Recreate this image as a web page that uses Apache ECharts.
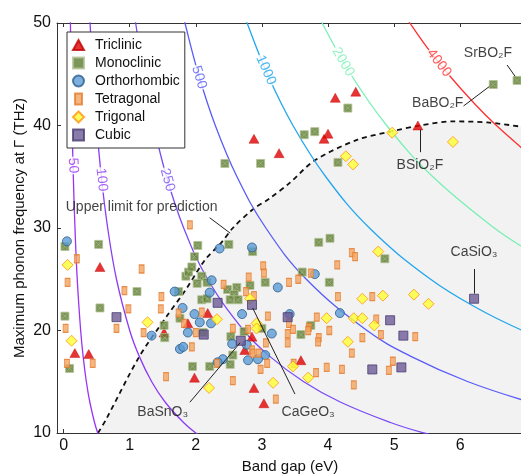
<!DOCTYPE html>
<html>
<head>
<meta charset="utf-8">
<title>Phonon frequency vs band gap</title>
<script src="https://cdn.jsdelivr.net/npm/echarts@6/dist/echarts.min.js"></script>
<style>
  html, body { margin: 0; padding: 0; background: #fff; }
  #chart { width: 521px; height: 475px; }
</style>
</head>
<body>
<div id="chart"></div>
<script>
// crystal systems, [band gap (eV), max phonon freq (THz)]
const categories = ["Triclinic", "Monoclinic", "Orthorhombic", "Tetragonal", "Trigonal", "Cubic"];

const triclinic = [
  [4.11, 42.7], [4.42, 43.3], [4.0, 39.2], [3.94, 38.7], [2.88, 38.7], [3.26, 37.3], [5.36, 40.0],
  [0.55, 26.2], [1.52, 19.8], [0.17, 17.8], [0.38, 17.7], [1.88, 20.7], [2.18, 21.7], [1.98, 15.4],
  [2.85, 19.4], [2.74, 18.1], [2.88, 14.4], [3.03, 12.9], [3.59, 17.1],
];
const monoclinic = [
  [2.44, 36.3], [2.98, 36.3], [4.15, 36.4], [4.3, 41.7], [3.64, 39.1], [3.8, 39.4], [6.5, 44.0], [6.86, 44.4],
  [0.02, 28.2], [0.53, 28.4], [1.11, 23.8], [1.74, 23.8], [1.85, 25.3], [1.89, 25.7], [0.55, 22.2], [0.02, 21.4],
  [1.76, 21.2], [1.52, 20.5], [1.53, 19.3], [0.09, 16.3], [2.03, 28.3], [2.5, 28.4], [2.86, 27.7], [1.98, 27.2],
  [1.94, 26.2], [2.09, 25.3], [2.02, 24.6], [2.17, 24.7], [3.61, 25.7], [2.82, 24.4], [3.05, 24.7], [2.48, 24.0],
  [2.62, 24.2], [2.58, 23.5], [2.52, 23.0], [2.64, 23.0], [2.09, 23.0], [2.17, 23.1], [2.73, 19.9], [2.53, 19.4],
  [2.56, 17.6], [2.21, 16.5], [2.52, 16.7], [1.95, 16.5], [2.11, 19.8], [3.0, 20.2], [3.59, 19.6], [3.74, 20.5],
  [3.86, 28.6], [4.03, 29.0], [4.86, 27.0], [4.02, 24.7],
];
const orthorhombic = [
  [0.05, 28.7], [1.68, 23.8], [1.8, 22.2], [1.33, 19.5], [1.88, 19.8], [1.76, 18.2], [1.81, 18.4], [2.36, 28.0],
  [2.85, 28.1], [2.24, 24.9], [3.24, 24.2], [3.8, 25.5], [2.21, 23.7], [1.98, 21.6], [2.06, 20.8], [2.23, 20.7],
  [2.7, 21.6], [3.42, 21.6], [3.15, 19.7], [2.55, 18.7], [2.77, 18.6], [3.05, 17.6], [2.94, 17.2], [2.79, 17.1],
  [2.41, 17.2], [2.33, 16.9], [4.18, 21.7],
];
const tetragonal = [
  [1.91, 30.3], [0.2, 27.0], [1.18, 26.0], [0.06, 24.7], [0.92, 23.9], [1.48, 23.3], [0.98, 22.1], [1.47, 22.1],
  [0.8, 20.2], [0.03, 20.2], [1.21, 19.8], [0.05, 16.8], [0.44, 16.8], [1.55, 15.5], [1.74, 21.7], [1.82, 20.7],
  [1.94, 18.4], [2.0, 19.8], [2.09, 21.8], [3.02, 26.3], [3.03, 25.6], [3.74, 25.6], [2.8, 25.2], [2.42, 24.5],
  [3.41, 24.7], [3.55, 25.0], [2.76, 23.8], [2.88, 23.4], [4.36, 27.6], [4.41, 27.2], [4.14, 26.4], [4.15, 23.3],
  [4.67, 23.3], [3.09, 21.4], [3.83, 21.3], [4.73, 21.1], [3.41, 20.7], [3.47, 20.1], [3.39, 19.7], [3.71, 20.3],
  [3.7, 20.0], [3.86, 19.3], [3.85, 18.9], [4.02, 20.0], [3.39, 18.8], [3.06, 18.8], [4.52, 19.3], [4.8, 19.6],
  [5.32, 19.4], [2.56, 20.2], [2.79, 20.1], [2.85, 18.1], [2.86, 17.8], [2.95, 17.8], [2.32, 16.8], [3.08, 16.8],
  [2.98, 16.2], [2.56, 15.1], [3.21, 13.3], [3.48, 16.8], [3.82, 15.9], [3.98, 16.4], [4.21, 16.2], [4.36, 17.8],
  [4.39, 14.7], [4.98, 17.0], [4.92, 16.1],
];
const trigonal = [
  [4.97, 39.3], [5.89, 38.4], [4.27, 37.0], [4.38, 36.2], [0.06, 26.4], [1.27, 20.8], [0.12, 19.0], [2.32, 21.1],
  [2.82, 23.1], [2.92, 20.7], [2.92, 20.2], [2.2, 14.4], [3.17, 14.9], [3.47, 16.5], [3.7, 15.4], [3.98, 21.2],
  [4.39, 21.2], [4.52, 21.2], [4.7, 20.5], [4.3, 18.9], [4.52, 23.1], [4.83, 23.4], [5.3, 23.5], [5.52, 22.6],
  [4.76, 27.7],
];
const cubic = [
  [0.8, 21.3], [2.33, 22.7], [2.85, 22.5], [2.68, 19.0], [2.12, 19.6], [3.39, 21.3], [4.94, 21.0], [5.14, 19.5],
  [4.67, 16.2], [5.11, 16.4], [6.21, 23.1],
];

// dashed "upper limit" boundary
const limitCurve = [
  [0.52, 10.0], [0.64, 11.3], [1.14, 17.4], [1.55, 21.3], [1.85, 24.0], [2.14, 26.9], [2.39, 28.6],
  [2.56, 30.0], [2.86, 31.8], [3.12, 32.9], [3.42, 34.4], [3.8, 36.6], [4.44, 38.6], [4.94, 39.4],
  [5.39, 40.0], [5.89, 40.4], [6.41, 40.3], [6.91, 39.9], [6.95, 39.85],
];

// iso-lines
const contourLevels = ["50", "100", "250", "500", "1000", "2000", "4000"];
const contour50 = [[0.099, 52], [0.103, 50], [0.115, 45], [0.129, 40], [0.147, 35], [0.172, 30], [0.206, 25], [0.258, 20], [0.295, 17.5], [0.344, 15], [0.397, 13], [0.469, 11], [0.516, 10], [0.573, 9]];
const contour100 = [[0.385, 52], [0.4, 50], [0.444, 45], [0.5, 40], [0.571, 35], [0.667, 30], [0.8, 25], [1.0, 20], [1.143, 17.5], [1.333, 15], [1.538, 13], [1.818, 11], [2.0, 10], [2.222, 9]];
const contour250 = [[1.048, 52], [1.09, 50], [1.211, 45], [1.363, 40], [1.557, 35], [1.817, 30], [2.18, 25], [2.725, 20], [3.114, 17.5], [3.633, 15], [4.192, 13], [4.955, 11], [5.45, 10], [6.056, 9]];
const contour500 = [[1.765, 52], [1.836, 50], [2.04, 45], [2.295, 40], [2.623, 35], [3.06, 30], [3.672, 25], [4.59, 20], [5.246, 17.5], [6.12, 15], [7.062, 13]];
const contour1000 = [[2.669, 52], [2.776, 50], [3.084, 45], [3.47, 40], [3.966, 35], [4.627, 30], [5.552, 25], [6.309, 22], [6.94, 20], [7.3, 19]];
const contour2000 = [[3.76, 52], [3.91, 50], [4.344, 45], [4.888, 40], [5.586, 35], [6.517, 30], [6.98, 28], [7.24, 27]];
const contour4000 = [[5.037, 52], [5.238, 50], [5.5, 47.6], [5.82, 45], [6.235, 42], [6.548, 40], [7.078, 37]];
const contourLabelAt = [[0.143, 36.1], [0.576, 34.7], [1.571, 34.7], [2.05, 44.7], [3.06, 45.4], [4.23, 46.2], [5.68, 46.1]];

// text annotations and their leader lines
const annotations = ["SrBO₂F", "BaBO₂F", "BSiO₂F", "CaSiO₃", "BaSnO₃", "CaGeO₃", "Upper limit for prediction"];
const annotationAt = [[6.42, 47.1], [5.66, 42.2], [5.39, 36.1], [6.21, 27.6], [1.5, 12.05], [3.7, 12.05], [1.18, 32.05]];
const leaderLines = [
  [[6.71, 45.9], [6.83, 44.8]],
  [[6.05, 41.9], [6.44, 43.8]],
  [[5.39, 39.6], [5.39, 37.4]],
  [[6.21, 26.0], [6.21, 23.6]],
  [[1.91, 13.0], [2.67, 18.8]],
  [[3.5, 13.8], [2.86, 22.2]],
  [[2.21, 31.0], [2.52, 29.5]],
];

const xTicks = [0, 1, 2, 3, 4, 5, 6];

const FONT = "Liberation Sans, Arial, sans-serif";
const contourColors = ["#9933f5", "#8c3cf5", "#7a4cf5", "#5a5cf8", "#22a6ee", "#78f0b4", "#ff3030"];
const contourData = [contour50, contour100, contour250, contour500, contour1000, contour2000, contour4000];
const labelRotate = [-87, -84, -74, -73, -66, -60, -52];

const chart = echarts.init(document.getElementById("chart"));

const scatterBase = {
  type: "scatter",
  z: 5,
  emphasis: { disabled: true },
};

const series = [
  {
    type: "line",
    name: "limit",
    data: limitCurve,
    symbol: "none",
    smooth: 0.3,
    z: 1,
    silent: true,
    lineStyle: { color: "#111", width: 1.8, type: [5, 4] },
    areaStyle: { color: "#f2f2f2", opacity: 1, origin: "start" },
  },
];

contourData.forEach((d, i) => {
  series.push({
    type: "line",
    name: "c" + contourLevels[i],
    data: d,
    symbol: "none",
    smooth: 0.4,
    z: 2,
    silent: true,
    lineStyle: { color: contourColors[i], width: 1.3 },
  });
});

series.push({
  type: "scatter",
  name: "contourLabels",
  z: 3,
  silent: true,
  symbolSize: 0,
  data: contourLabelAt.map((p, i) => ({
    value: p,
    label: {
      show: true,
      position: "inside",
      formatter: contourLevels[i],
      rotate: labelRotate[i],
      color: contourColors[i],
      fontSize: 14,
      fontFamily: FONT,
      backgroundColor: "#fff",
      padding: [0, 1],
    },
  })),
});

series.push(
  {
    ...scatterBase,
    name: "Triclinic",
    data: triclinic,
    symbol: "path://M5,0L10,9L0,9Z",
    symbolSize: [10, 9],
    itemStyle: { color: "#e00000", borderColor: "#c00000", borderWidth: 0.5 },
  },
  {
    ...scatterBase,
    name: "Monoclinic",
    data: monoclinic,
    symbol: "rect",
    symbolSize: 8,
    itemStyle: { color: "#5b7a30", borderColor: "#b3c294", borderWidth: 1 },
  },
  {
    ...scatterBase,
    name: "monoX",
    data: monoclinic,
    silent: true,
    symbol: "path://M0,0L10,10M10,0L0,10",
    symbolSize: 5,
    itemStyle: { color: "rgba(0,0,0,0)", borderColor: "#a8ba86", borderWidth: 0.8 },
  },
  {
    ...scatterBase,
    name: "Orthorhombic",
    data: orthorhombic,
    symbol: "circle",
    symbolSize: 9,
    itemStyle: { color: "#5b9bd5", borderColor: "#2d5f8c", borderWidth: 1 },
  },
  {
    ...scatterBase,
    name: "Tetragonal",
    data: tetragonal,
    symbol: "path://M0,0H5V8H0Z",
    symbolSize: [5, 8],
    itemStyle: { color: "#f4a460", borderColor: "#e47a2c", borderWidth: 1 },
  },
  {
    ...scatterBase,
    name: "Trigonal",
    data: trigonal,
    symbol: "path://M5,0L10,5L5,10L0,5Z",
    symbolSize: 11,
    itemStyle: { color: "#ffff33", borderColor: "#ff9515", borderWidth: 1 },
  },
  {
    ...scatterBase,
    name: "Cubic",
    data: cubic,
    symbol: "rect",
    symbolSize: 9,
    itemStyle: { color: "#6b5b95", borderColor: "#4a3b72", borderWidth: 1 },
  }
);

series.push({
  type: "lines",
  name: "leaders",
  coordinateSystem: "cartesian2d",
  silent: true,
  z: 6,
  lineStyle: { color: "#222", width: 1, opacity: 1 },
  data: leaderLines.map((c) => ({ coords: c })),
});

series.push({
  type: "scatter",
  name: "annotations",
  silent: true,
  z: 7,
  symbolSize: 0,
  data: annotationAt.map((p, i) => ({
    value: p,
    label: {
      show: true,
      position: "inside",
      formatter: annotations[i],
      color: "#111",
      fontSize: 14,
      fontFamily: FONT,
    },
  })),
});

const option = {
  animation: false,
  backgroundColor: "#fff",
  textStyle: { fontFamily: FONT },
  grid: { left: 57, right: -2, top: 23, bottom: 42, outerBoundsMode: "none", containLabel: false },
  legend: {
    left: 67,
    top: 32,
    orient: "vertical",
    backgroundColor: "#fff",
    borderColor: "#333",
    borderWidth: 1,
    padding: [6, 5, 6, 5],
    itemWidth: 11,
    itemHeight: 11,
    itemGap: 4,
    selectedMode: false,
    textStyle: { fontSize: 14, color: "#111", fontFamily: FONT, padding: [0, 0, 0, 6] },
    data: categories,
  },
  xAxis: [
    {
      type: "value",
      min: -0.1,
      max: 6.95,
      name: "Band gap (eV)",
      nameLocation: "middle",
      nameGap: 25,
      nameTextStyle: { fontSize: 15, color: "#111" },
      axisLine: { show: true, onZero: false, lineStyle: { color: "#333", width: 1 } },
      axisTick: { show: true, inside: true, length: 4, customValues: xTicks, lineStyle: { color: "#333" } },
      axisLabel: { customValues: xTicks, fontSize: 16, color: "#111", margin: 5 },
      splitLine: { show: false },
    },
    {
      type: "value",
      position: "top",
      min: -0.1,
      max: 6.95,
      axisLine: { show: true, onZero: false, lineStyle: { color: "#333", width: 1 } },
      axisTick: { show: true, inside: true, length: 4, customValues: xTicks, lineStyle: { color: "#333" } },
      axisLabel: { show: false },
      splitLine: { show: false },
    },
  ],
  yAxis: {
    type: "value",
    min: 10,
    max: 50,
    interval: 10,
    name: "Maximum phonon frequency at Γ (THz)",
    nameLocation: "middle",
    nameGap: 30,
    nameMoveOverlap: false,
    nameTextStyle: { fontSize: 15, color: "#111" },
    axisLine: { show: true, onZero: false, lineStyle: { color: "#333", width: 1 } },
    axisTick: { show: true, inside: true, length: 4, lineStyle: { color: "#333" } },
    axisLabel: { fontSize: 16, color: "#111", margin: 6 },
    splitLine: { show: false },
  },
  series,
};

chart.setOption(option);
</script>
</body>
</html>
